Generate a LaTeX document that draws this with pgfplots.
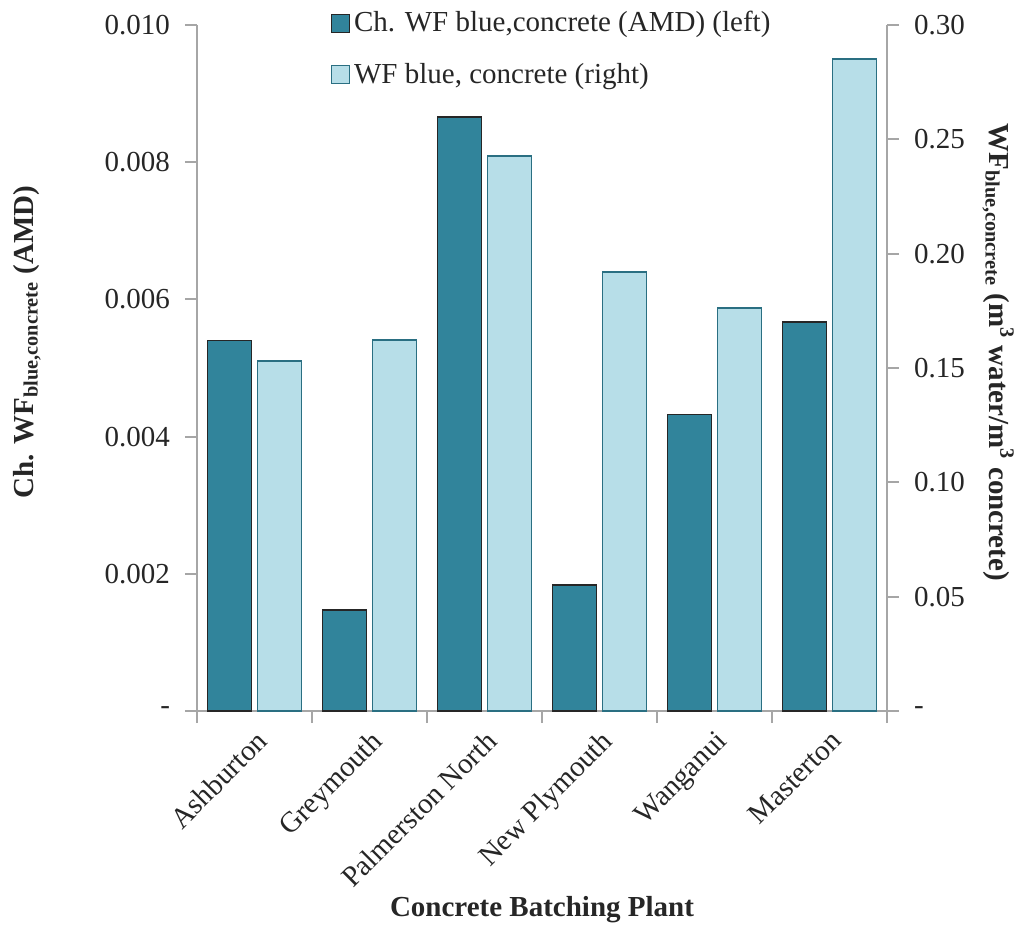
\documentclass[border=0pt]{standalone}
\usepackage{fontspec}
\setmainfont{Liberation Serif}
\usepackage{pgfplots}
\pgfplotsset{compat=1.18}
\definecolor{dteal}{HTML}{31849B}
\definecolor{lteal}{HTML}{B7DEE8}
\definecolor{ledge}{HTML}{2A6F82}
\definecolor{axgray}{HTML}{A6A6A6}
\definecolor{txt}{HTML}{262626}
\begin{document}
\begin{tikzpicture}[font=\fontsize{14.5}{17}\selectfont]
\pgfplotsset{
  common/.style={
    scale only axis, width=345pt, height=343pt,
    xmin=-0.5, xmax=5.5, ymin=0,
    tick align=outside, major tick length=6pt,
    tick style={axgray, line width=1pt},
    axis line style={axgray, line width=1pt},
    ticklabel style={txt},
    scaled y ticks=false,
    clip=false,
  }
}
\begin{axis}[common,
  ymax=0.010,
  axis y line*=left, axis x line*=bottom,
  ytick={0,0.002,0.004,0.006,0.008,0.010},
  yticklabels={-\hspace{7pt},0.002,0.004,0.006,0.008,0.010},
  yticklabel style={xshift=-4pt},
  xtick={-0.5,0.5,1.5,2.5,3.5,4.5,5.5},
  xticklabels={Ashburton,Greymouth,Palmerston North,New Plymouth,Wanganui,Masterton},
  x tick label as interval,
  xticklabel style={rotate=45, anchor=north east, inner sep=2pt},
  ylabel={\textbf{Ch. WF\textsubscript{blue,concrete} (AMD)}},
  ylabel style={at={(axis description cs:-0.2464,0.538)}, anchor=center, txt},
  xlabel={\textbf{Concrete Batching Plant}},
  xlabel style={at={(axis description cs:0.5,-0.29)}, anchor=center, txt},
]
\addplot[ybar, bar width=22pt, bar shift=-12.5pt, fill=dteal, draw=black!85, line width=0.75pt]
  coordinates {(0,0.00540) (1,0.00147) (2,0.00866) (3,0.00184) (4,0.00432) (5,0.00567)};
\end{axis}
\begin{axis}[common,
  ymax=0.30,
  axis y line*=right, axis x line=none,
  ytick={0,0.05,0.10,0.15,0.20,0.25,0.30},
  yticklabels={-,0.05,0.10,0.15,0.20,0.25,0.30},
  yticklabel style={xshift=4pt},
  ylabel={\textbf{WF\textsubscript{blue,concrete} (m\textsuperscript{3} water/m\textsuperscript{3} concrete)}},
  ylabel style={at={(axis description cs:1.161,0.523)}, anchor=center, rotate=180, txt},
  legend style={at={(axis description cs:0.193,1.026)}, anchor=north west, draw=none, fill=none,
    font=\fontsize{14.5}{17}\selectfont, text=txt, row sep=10pt, inner sep=0pt,
    cells={anchor=west}},
  legend image code/.code={\draw[#1] (0pt,-4.5pt) rectangle (9pt,4.5pt);},
]
\addlegendimage{fill=dteal, draw=black!85, line width=0.75pt}
\addlegendentry{Ch. WF blue,concrete (AMD) (left)}
\addplot[ybar, bar width=22pt, bar shift=12.5pt, fill=lteal, draw=ledge, line width=0.75pt]
  coordinates {(0,0.1531) (1,0.1622) (2,0.2427) (3,0.1920) (4,0.1762) (5,0.2851)};
\addlegendentry{WF blue, concrete (right)}
\end{axis}
\pgfresetboundingbox
\useasboundingbox (-98.5pt,-108pt) rectangle (413.5pt,355.5pt);
\end{tikzpicture}
\end{document}
